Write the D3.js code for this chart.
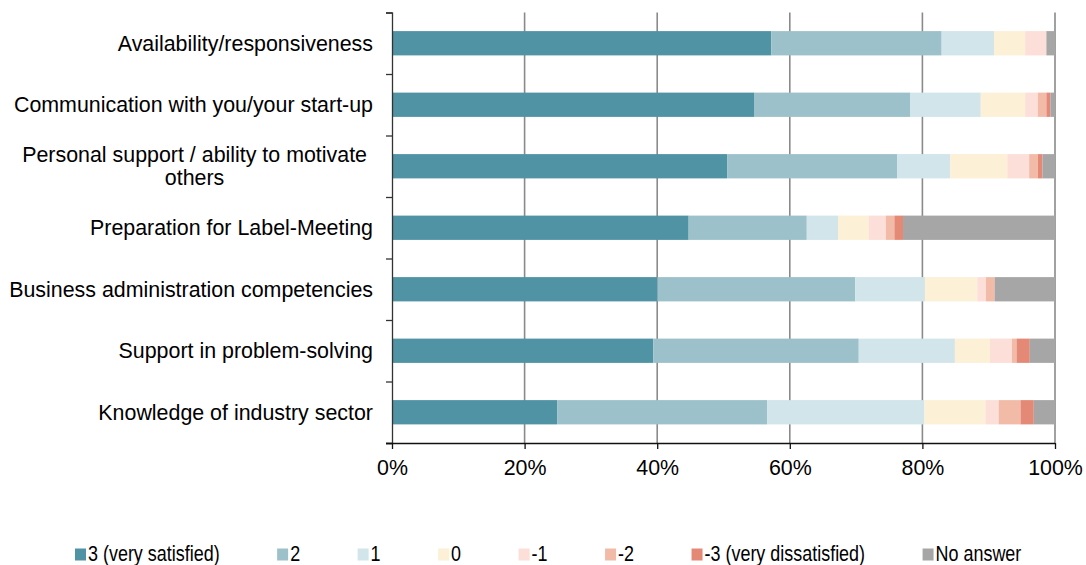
<!DOCTYPE html>
<html>
<head>
<meta charset="utf-8">
<script src="https://cdn.jsdelivr.net/npm/d3@7"></script>
<style>
  html, body { margin: 0; padding: 0; background: #fff; }
  svg { display: block; font-family: "Liberation Sans", Arial, sans-serif; }
</style>
</head>
<body>
<svg width="1086" height="565"></svg>
<script>
// categories, top to bottom
const categories = [
    'Availability/responsiveness',
    'Communication with you/your start-up',
    'Personal support / ability to motivate others',
    'Preparation for Label-Meeting',
    'Business administration competencies',
    'Support in problem-solving',
    'Knowledge of industry sector'
];

const seriesNames = ['3 (very satisfied)', '2', '1', '0', '-1', '-2', '-3 (very dissatisfied)', 'No answer'];
const seriesColors = ['#4f93a4', '#9dc1ca', '#d1e5ea', '#fcf0d7', '#fbdfd8', '#f2bba7', '#e58977', '#a6a6a6'];

// shares in %, one value per category
const s3  = [57.2, 54.6, 50.6, 44.7, 40.0, 39.4, 24.9];
const s2  = [25.7, 23.6, 25.7, 17.8, 29.8, 31.0, 31.7];
const s1  = [7.9, 10.6, 8.0, 4.7, 10.5, 14.5, 23.7];
const s0  = [4.7, 6.7, 8.6, 4.6, 7.9, 5.3, 9.2];
const sm1 = [3.2, 1.9, 3.3, 2.6, 1.3, 3.3, 2.0];
const sm2 = [0, 1.3, 1.3, 1.3, 1.3, 0.7, 3.3];
const sm3 = [0, 0.6, 0.7, 1.3, 0, 2.0, 2.0];
const sNA = [1.3, 0.7, 1.9, 22.9, 9.1, 3.8, 3.2];

const xTicks = [0, 0.2, 0.4, 0.6, 0.8, 1];

init();

function init() {
    const seriesVals = [s3, s2, s1, s0, sm1, sm2, sm3, sNA];
    const rows = categories.map((c, i) => {
        let r = { cat: c };
        seriesNames.forEach((s, k) => { r[s] = seriesVals[k][i]; });
        return r;
    });

    const stack = d3.stack().keys(seriesNames).offset(d3.stackOffsetExpand);
    const layers = stack(rows);

    const svg = d3.select('svg');
    const left = 392, right = 1055, top = 12.5, bottom = 443;
    const fs = '21.4px';

    const x = d3.scaleLinear().domain([0, 1]).range([left, right]);
    const y = d3.scaleBand().domain(categories).range([top, bottom])
        .paddingInner(0.605).paddingOuter(0.3025);
    const color = d3.scaleOrdinal().domain(seriesNames).range(seriesColors);

    // gridlines
    svg.append('g')
        .selectAll('line')
        .data(xTicks.slice(1))
        .join('line')
        .attr('x1', d => x(d)).attr('x2', d => x(d))
        .attr('y1', top).attr('y2', bottom)
        .attr('stroke', '#8a8a8a')
        .attr('stroke-width', 1.6);

    // bars
    svg.append('g')
        .selectAll('g')
        .data(layers)
        .join('g')
        .attr('fill', d => color(d.key))
        .selectAll('rect')
        .data(d => d)
        .join('rect')
        .attr('x', d => x(d[0]))
        .attr('width', d => x(d[1]) - x(d[0]))
        .attr('y', d => y(d.data.cat))
        .attr('height', y.bandwidth());

    // left axis with ticks between categories
    const yb = d3.scaleLinear().domain([0, categories.length]).range([top, bottom]);
    const yAxis = svg.append('g')
        .attr('transform', 'translate(' + left + ',0)')
        .call(d3.axisLeft(yb).tickValues(d3.range(0, categories.length + 1)).tickSize(6).tickFormat(''));
    yAxis.select('.domain').attr('stroke', '#333').attr('stroke-width', 1.3);
    yAxis.selectAll('.tick line').attr('stroke', '#333').attr('stroke-width', 1.3);

    // bottom axis
    const xAxis = svg.append('g')
        .attr('transform', 'translate(0,' + bottom + ')')
        .call(d3.axisBottom(x).tickValues(xTicks).tickSize(6).tickSizeOuter(0).tickFormat(d3.format('.0%')));
    xAxis.select('.domain').attr('stroke', '#111').attr('stroke-width', 1.5)
        .attr('d', 'M' + (left - 6) + ',0.5H' + right);
    xAxis.selectAll('.tick line').attr('stroke', '#111').attr('stroke-width', 1.3);
    xAxis.selectAll('.tick text')
        .attr('y', 17)
        .attr('dy', '0.71em')
        .attr('fill', '#000')
        .style('font-size', fs)
        .style('font-family', '"Liberation Sans", Arial, sans-serif');

    // category labels, wrapped and centred as a block ending near the axis
    const gLab = svg.append('g').style('font-size', fs).attr('fill', '#000');
    categories.forEach(c => {
        const cy = y(c) + y.bandwidth() / 2;
        const t = gLab.append('text').attr('text-anchor', 'end').attr('x', 373);
        const words = c.split(' ');
        let lines = [], line = [];
        words.forEach(w => {
            line.push(w);
            t.text(line.join(' '));
            if (t.node().getComputedTextLength() > 378 && line.length > 1) {
                line.pop();
                lines.push(line.join(' '));
                line = [w];
            }
        });
        lines.push(line.join(' '));
        t.text(null);
        if (lines.length === 1) {
            t.attr('y', cy).attr('dy', '0.35em').text(lines[0]);
        } else {
            const widths = lines.map(l => { t.text(l); return t.node().getComputedTextLength(); });
            t.text(null);
            const mid = 367 - d3.max(widths) / 2;
            const lh = 23;
            t.attr('text-anchor', 'middle');
            lines.forEach((l, i) => {
                t.append('tspan')
                    .attr('x', mid)
                    .attr('y', cy + (i - (lines.length - 1) / 2) * lh)
                    .attr('dy', '0.35em')
                    .text(l);
            });
        }
    });

    // legend (narrow face)
    const gLeg = svg.append('g').attr('transform', 'translate(75,0)');
    let lx = 0;
    const sx = 0.855;
    seriesNames.forEach(s => {
        const it = gLeg.append('g').attr('transform', 'translate(' + lx + ',0)');
        it.append('rect')
            .attr('x', 0).attr('y', 548.5)
            .attr('width', 11).attr('height', 12)
            .attr('fill', color(s));
        const tx = it.append('text')
            .attr('transform', 'translate(13,561) scale(' + sx + ',1.05)')
            .style('font-size', '21px')
            .attr('fill', '#000')
            .text(s);
        lx += 13 + tx.node().getComputedTextLength() * sx + 57.5;
    });
}
</script>
</body>
</html>
